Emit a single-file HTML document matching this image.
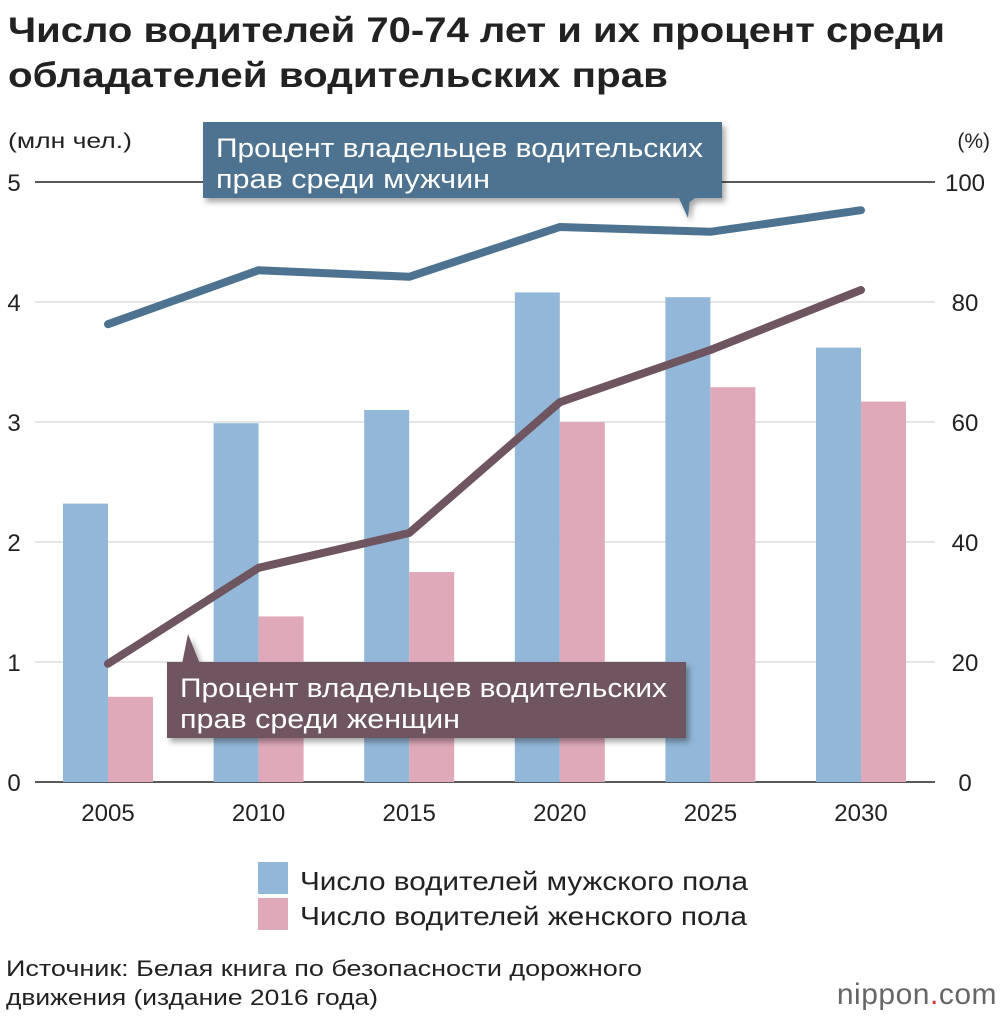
<!DOCTYPE html>
<html><head><meta charset="utf-8"><style>
body{margin:0;background:#fff;width:1000px;height:1016px;overflow:hidden;font-family:"Liberation Sans","DejaVu Sans",sans-serif}
</style></head><body>
<svg width="1000" height="1016" xmlns="http://www.w3.org/2000/svg" font-family="Liberation Sans, DejaVu Sans, sans-serif">
<defs><filter id="sh" x="-10%" y="-20%" width="130%" height="160%"><feDropShadow dx="3" dy="4" stdDeviation="3" flood-color="#000" flood-opacity="0.35"/></filter></defs>
<text x="8" y="42" font-size="35" font-weight="bold" fill="#222" textLength="937" lengthAdjust="spacingAndGlyphs">Число водителей 70-74 лет и их процент среди</text>
<text x="8" y="87" font-size="35" font-weight="bold" fill="#222" textLength="660" lengthAdjust="spacingAndGlyphs">обладателей водительских прав</text>
<text x="8" y="148" font-size="21" fill="#222" textLength="124" lengthAdjust="spacingAndGlyphs">(млн чел.)</text>
<text x="990" y="148" font-size="21" fill="#222" text-anchor="end">(%)</text>
<g id="grid"></g><g id="bars"></g><g id="lines"></g>
<g filter="url(#sh)">
<path d="M203 122H722V198H695L690 202L688 198H203Z" fill="#4d7390"/>
<path d="M678 196L690 198L688 218Z" fill="#4d7390"/>
</g>
<text x="216" y="157" font-size="27" fill="#fff" textLength="487" lengthAdjust="spacingAndGlyphs">Процент владельцев водительских</text>
<text x="216" y="188" font-size="27" fill="#fff" textLength="274" lengthAdjust="spacingAndGlyphs">прав среди мужчин</text>
<g filter="url(#sh)">
<path d="M167 662H686V738H167Z" fill="#6e5560"/>
<path d="M182 664L188 634L200 664Z" fill="#6e5560"/>
</g>
<text x="180" y="697" font-size="27" fill="#fff" textLength="487" lengthAdjust="spacingAndGlyphs">Процент владельцев водительских</text>
<text x="180" y="728" font-size="27" fill="#fff" textLength="280" lengthAdjust="spacingAndGlyphs">прав среди женщин</text>
<rect x="258" y="862" width="30" height="32" fill="#93b7d8"/>
<text x="300" y="890" font-size="26" fill="#222" textLength="448" lengthAdjust="spacingAndGlyphs">Число водителей мужского пола</text>
<rect x="258" y="898" width="30" height="32" fill="#dfa9b9"/>
<text x="300" y="925" font-size="26" fill="#222" textLength="447" lengthAdjust="spacingAndGlyphs">Число водителей женского пола</text>
<text x="6" y="976" font-size="22" fill="#222" textLength="636" lengthAdjust="spacingAndGlyphs">Источник: Белая книга по безопасности дорожного</text>
<text x="6" y="1005" font-size="22" fill="#222" textLength="372" lengthAdjust="spacingAndGlyphs">движения (издание 2016 года)</text>
<text x="997" y="1004" font-size="30" fill="#666" text-anchor="end" letter-spacing="0.5">nippon<tspan fill="#d33">.</tspan>com</text>
</svg>
<script>
const years=['2005','2010','2015','2020','2025','2030'];
const menDrivers=[2.32,2.99,3.1,4.08,4.04,3.62];
const womenDrivers=[0.71,1.38,1.75,3.0,3.29,3.17];
const menPct=[76.3,85.3,84.2,92.5,91.7,95.3];
const womenPct=[19.7,35.7,41.5,63.3,72.0,82.0];
const leftTicks=[0,1,2,3,4,5];
const rightTicks=[0,20,40,60,80,100];
const NS='http://www.w3.org/2000/svg';
const y0=782,yTop=182;
const yL=v=>y0-(y0-yTop)*v/5;
const yR=v=>y0-(y0-yTop)*v/100;
const xC=i=>108+i*150.6;
function mk(t,a,p){const e=document.createElementNS(NS,t);for(const k in a)e.setAttribute(k,a[k]);p.appendChild(e);return e;}
const g=document.getElementById('grid'),b=document.getElementById('bars'),l=document.getElementById('lines');
leftTicks.forEach((v,i)=>{
 const ln=mk('line',{x1:35,x2:935,y1:yL(v),y2:yL(v),stroke:i==5?'#222':(i==0?'#222':'#ccc'),'stroke-width':i==5||i==0?1.5:1},g);
 
 
 const t=mk('text',{x:14,y:yL(v)+9,'font-size':24,fill:'#222','text-anchor':'middle'},g);t.textContent=v;
 
 
 const r=mk('text',{x:965,y:yR(rightTicks[i])+9,'font-size':24,fill:'#222','text-anchor':'middle'},g);r.textContent=rightTicks[i];
 
 
});
years.forEach((yr,i)=>{
 const c=xC(i);
 const m=mk('rect',{x:c-45,y:yL(menDrivers[i]),width:45,height:y0-yL(menDrivers[i]),fill:'#93b7d8'},b);
 
 
 const w=mk('rect',{x:c,y:yL(womenDrivers[i]),width:45,height:y0-yL(womenDrivers[i]),fill:'#dfa9b9'},b);
 
 
 const t=mk('text',{x:c,y:821,'font-size':24,fill:'#222','text-anchor':'middle'},b);t.textContent=yr;
 
 
});
const pm=mk('polyline',{points:menPct.map((v,i)=>xC(i)+','+yR(v)).join(' '),fill:'none',stroke:'#4d7390','stroke-width':8,'stroke-linecap':'round','stroke-linejoin':'round'},l);


const pw=mk('polyline',{points:womenPct.map((v,i)=>xC(i)+','+yR(v)).join(' '),fill:'none',stroke:'#6e5560','stroke-width':8,'stroke-linecap':'round','stroke-linejoin':'round'},l);


</script>
</body></html>
